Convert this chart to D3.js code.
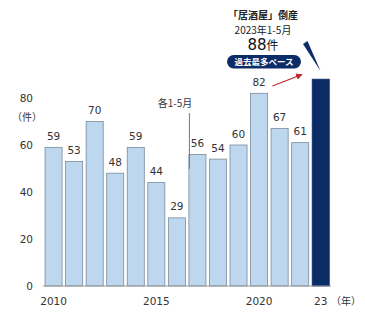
<!DOCTYPE html>
<html><head><meta charset="utf-8">
<script src="https://cdn.jsdelivr.net/npm/d3@7"></script>
<style>body{margin:0;background:#fff}svg{display:block}</style>
</head><body>
<svg id="c" width="365" height="331"></svg>
<script>
const years = ["2010","2011","2012","2013","2014","2015","2016","2017","2018","2019","2020","2021","2022","2023"];
const counts = [59,53,70,48,59,44,29,56,54,60,82,67,61,88];
const xTickLabels = {"2010":"2010","2015":"2015","2020":"2020","2023":"23"};
const yTicks = [0,20,40,60,80];
const highlightYear = "2023";

const svg = d3.select("#c");
const num = "DejaVu Sans, Verdana, sans-serif";
const jp = "'Noto Sans CJK JP', sans-serif";
const x = d3.scaleBand().domain(years).range([43.3, 331]).paddingInner(0.17).paddingOuter(0.085);
const y = d3.scaleLinear().domain([0, 80]).range([286, 98]);

// bars
svg.append("g").selectAll("rect").data(years).join("rect")
  .attr("x", d => x(d)).attr("width", x.bandwidth())
  .attr("y", (d,i) => y(counts[i])).attr("height", (d,i) => y(0) - y(counts[i]))
  .attr("fill", d => d === highlightYear ? "#0c2c68" : "#bdd7ee")
  .attr("stroke", d => d === highlightYear ? "#0c2c68" : "#7a8a9c")
  .attr("stroke-width", 0.8);

// baseline
svg.append("line").attr("x1", 43).attr("x2", 331).attr("y1", y(0)).attr("y2", y(0))
  .attr("stroke", "#9a9a9a").attr("stroke-width", 1);

// y tick labels
svg.append("g").selectAll("text").data(yTicks).join("text")
  .attr("x", 33).attr("y", d => y(d) + 4).attr("text-anchor", "end")
  .attr("font-family", num).attr("font-size", 10.5).attr("fill", "#333").text(d => d);
svg.append("text").attr("x", 27).attr("y", 121).attr("text-anchor", "middle")
  .attr("font-family", jp).attr("font-size", 10).attr("fill", "#333").text("（件）");

// x tick labels
svg.append("g").selectAll("text").data(years.filter(d => xTickLabels[d])).join("text")
  .attr("x", d => x(d) + x.bandwidth()/2).attr("y", 304.5).attr("text-anchor", "middle")
  .attr("font-family", num).attr("font-size", 10.5).attr("fill", "#333").text(d => xTickLabels[d]);
svg.append("text").attr("x", 346).attr("y", 304.5).attr("text-anchor", "middle")
  .attr("font-family", jp).attr("font-size", 10).attr("fill", "#333").text("（年）");

// value labels
svg.append("g").selectAll("text").data(years.filter(d => d !== highlightYear)).join("text")
  .attr("x", d => x(d) + x.bandwidth()/2).attr("y", d => y(counts[years.indexOf(d)]) - 7.5)
  .attr("text-anchor", "middle").attr("font-family", num).attr("font-size", 10.5).attr("fill", "#333")
  .text(d => counts[years.indexOf(d)]);

// "各1-5月" annotation
svg.append("text").attr("x", 175).attr("y", 106.5).attr("text-anchor", "middle")
  .attr("font-family", jp).attr("font-size", 10).attr("fill", "#333").text("各1-5月");
const ax = x("2016") + x.bandwidth() + 4;
svg.append("path")
  .attr("d", `M${ax},113V${y(50)}H${x("2017")}`)
  .attr("fill", "none").attr("stroke", "#777").attr("stroke-width", 1);

// top annotation
const cx = 263;
svg.append("text").attr("x", cx).attr("y", 19).attr("text-anchor", "middle")
  .attr("font-family", jp).attr("font-size", 10).attr("font-weight", "bold").attr("fill", "#222")
  .text("「居酒屋」倒産");
svg.append("text").attr("x", cx).attr("y", 34).attr("text-anchor", "middle")
  .attr("font-family", jp).attr("font-size", 10).attr("fill", "#222").text("2023年1-5月");
const t88 = svg.append("text").attr("x", cx).attr("y", 49.5).attr("text-anchor", "middle").attr("fill", "#111");
t88.append("tspan").attr("font-family", num).attr("font-size", 15).text(counts[years.indexOf(highlightYear)]);
t88.append("tspan").attr("font-family", jp).attr("font-size", 12).text("件");

svg.append("rect").attr("x", 227).attr("y", 55).attr("width", 74).attr("height", 13.5).attr("rx", 6.75)
  .attr("fill", "#0c2c68");
svg.append("text").attr("x", 264).attr("y", 65).attr("text-anchor", "middle")
  .attr("font-family", jp).attr("font-size", 8.5).attr("font-weight", "bold").attr("fill", "#fff")
  .text("過去最多ペース");

// red arrow
svg.append("defs").append("marker").attr("id", "ah").attr("viewBox", "0 0 10 10")
  .attr("refX", 9).attr("refY", 5).attr("markerWidth", 5).attr("markerHeight", 5).attr("orient", "auto")
  .append("path").attr("d", "M0,0L10,5L0,10z").attr("fill", "#c0282d");
svg.append("line").attr("x1", 272.5).attr("y1", 86).attr("x2", 302).attr("y2", 74.5)
  .attr("stroke", "#c0282d").attr("stroke-width", 1.3).attr("marker-end", "url(#ah)");

// navy wedge pointer
svg.append("path").attr("d", "M303,44L307.5,41L320.5,71Z").attr("fill", "#0c2c68");
</script>
</body></html>
